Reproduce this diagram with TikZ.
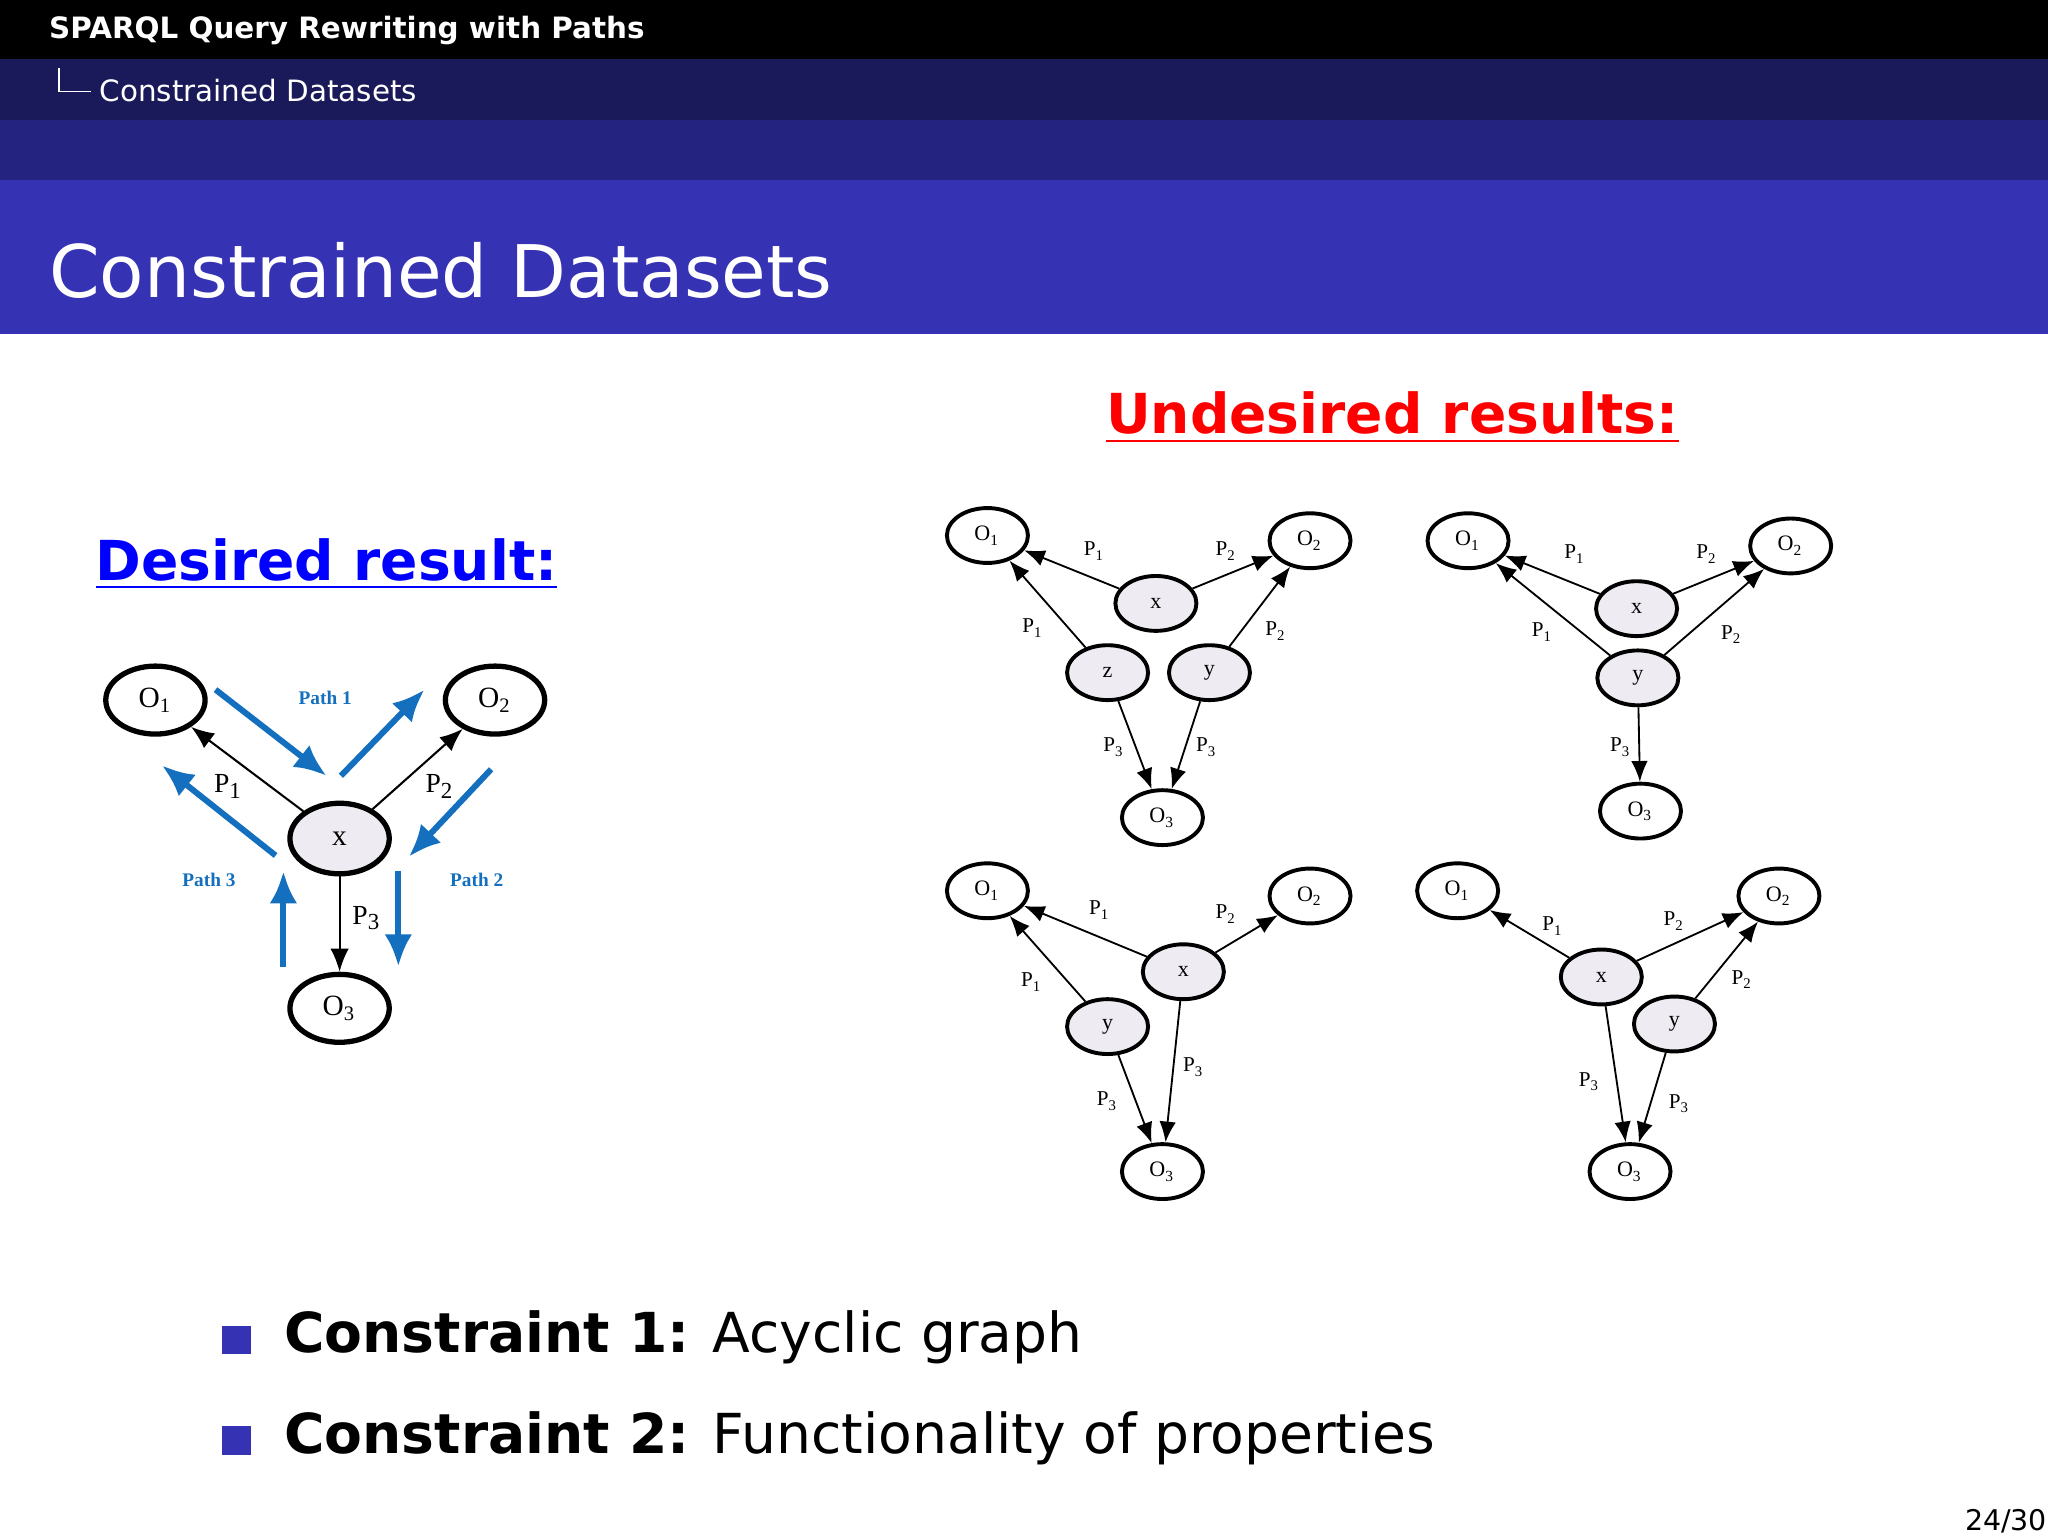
\documentclass[tikz,border=0pt]{standalone}
\usepackage{fontspec}
\setmainfont{DejaVu Sans}
\newfontfamily\nodefont{Liberation Serif}
\usetikzlibrary{arrows.meta,shapes.geometric}
\definecolor{bar1}{RGB}{26,26,90}
\definecolor{bar2}{RGB}{36,36,128}
\definecolor{bar3}{RGB}{54,50,180}
\definecolor{pathblue}{RGB}{20,112,190}
\definecolor{nodegray}{RGB}{238,236,242}
\newcommand{\mysub}[1]{\textsubscript{#1}}
\begin{document}
\begin{tikzpicture}[x=0.01cm,y=-0.01cm,
  bigo/.style={draw,ellipse,line width=1.15pt,minimum width=0.76cm,minimum height=0.52cm,inner sep=0pt,font=\nodefont\fontsize{6.4}{7}\selectfont},
  bigv/.style={bigo,fill=nodegray,minimum height=0.54cm},
  sm/.style={draw,ellipse,line width=0.85pt,minimum width=0.62cm,minimum height=0.42cm,inner sep=0pt,font=\nodefont\fontsize{4.8}{5}\selectfont},
  smv/.style={sm,fill=nodegray},
  edge/.style={-{Latex[length=5pt,width=4pt]},line width=0.45pt},
  sedge/.style={-{Latex[length=4.5pt,width=3.6pt]},line width=0.4pt},
  blue arrow/.style={-{Latex[length=7pt,width=6pt]},line width=1.3pt,pathblue},
  biglab/.style={font=\nodefont\fontsize{6}{6}\selectfont},
  smlab/.style={font=\nodefont\fontsize{4.6}{5}\selectfont},
  pathlab/.style={font=\nodefont\bfseries\fontsize{4.2}{5}\selectfont,text=pathblue},
  bulletsq/.style={fill=bar3,minimum size=0.22cm,inner sep=0pt}]
\useasboundingbox (0,0) rectangle (1568,1176);
\fill[white] (0,0) rectangle (1568,1176);
\fill[black] (0,0) rectangle (1568,45);
\fill[bar1] (0,45) rectangle (1568,92);
\fill[bar2] (0,92) rectangle (1568,138);
\fill[bar3] (0,138) rectangle (1568,256);
\node[anchor=west,text=white,inner sep=0pt,font=\bfseries\fontsize{6.4}{7}\selectfont] (hdr) at (37,23) {SPARQL Query Rewriting with Paths};
\draw[white,line width=0.4pt] (45,52) |- (70,70);
\node[anchor=west,text=white,font=\fontsize{6.4}{7}\selectfont,inner sep=1pt] (sub) at (72,69) {Constrained Datasets};
\node[anchor=west,text=white,font=\fontsize{15.8}{18}\selectfont,inner sep=0pt] (title) at (37,207) {Constrained Datasets};

\node[text=red,font=\bfseries\fontsize{12}{14}\selectfont] (und) at (1066,320) {\underline{Undesired results:}};
\node[text=blue,font=\bfseries\fontsize{12}{14}\selectfont] (des) at (250,432) {\underline{Desired result:}};

% left diagram
\node[bigo] (LO1) at (119,536) {O\mysub{1}};
\node[bigo] (LO2) at (379,536) {O\mysub{2}};
\node[bigv] (LX) at (260,642) {x};
\node[bigo] (LO3) at (260,772) {O\mysub{3}};
\draw[edge] (LX) -- (LO1);
\draw[edge] (LX) -- (LO2);
\draw[edge] (LX) -- (LO3);
\node[biglab] (lp1) at (175,602) {P\mysub{1}};
\node[biglab] (lp2) at (337,602) {P\mysub{2}};
\node[biglab] (lp3) at (281,703) {P\mysub{3}};
\coordinate (a1) at (165,528); \coordinate (b1) at (250,594);
\coordinate (a2) at (261,594); \coordinate (b2) at (325,528);
\coordinate (a3) at (376,589); \coordinate (b3) at (313,656);
\coordinate (a4) at (305,667); \coordinate (b4) at (305,740);
\coordinate (a5) at (217,740); \coordinate (b5) at (217,667);
\coordinate (a6) at (211,655); \coordinate (b6) at (124,586);
\foreach \i in {1,...,6} {\draw[blue arrow] (a\i) -- (b\i);}
\node[pathlab] (pa1) at (249,534) {Path 1};
\node[pathlab] (pa2) at (365,674) {Path 2};
\node[pathlab] (pa3) at (160,674) {Path 3};

% graph 1
\node[sm] (AO1) at (756,410) {O\mysub{1}};
\node[sm] (AO2) at (1003,414) {O\mysub{2}};
\node[smv] (AX) at (885,462) {x};
\node[smv] (AZ) at (848,515) {z};
\node[smv] (AY) at (926,515) {y};
\node[sm] (AO3) at (890,626) {O\mysub{3}};
\draw[sedge] (AX) -- (AO1); \draw[sedge] (AX) -- (AO2);
\draw[sedge] (AZ) -- (AO1); \draw[sedge] (AY) -- (AO2);
\draw[sedge] (AZ) -- (AO3); \draw[sedge] (AY) -- (AO3);
\node[smlab] at (838,422) {P\mysub{1}}; \node[smlab] at (939,422) {P\mysub{2}};
\node[smlab] at (791,481) {P\mysub{1}}; \node[smlab] at (977,483) {P\mysub{2}};
\node[smlab] at (853,572) {P\mysub{3}}; \node[smlab] at (924,572) {P\mysub{3}};

% graph 2
\node[sm] (BO1) at (1124,414) {O\mysub{1}};
\node[sm] (BO2) at (1371,418) {O\mysub{2}};
\node[smv] (BX) at (1253,466) {x};
\node[smv] (BY) at (1254,519) {y};
\node[sm] (BO3) at (1256,621) {O\mysub{3}};
\draw[sedge] (BX) -- (BO1); \draw[sedge] (BX) -- (BO2);
\draw[sedge] (BY) -- (BO1); \draw[sedge] (BY) -- (BO2);
\draw[sedge] (BY) -- (BO3);
\node[smlab] at (1206,424) {P\mysub{1}}; \node[smlab] at (1307,424) {P\mysub{2}};
\node[smlab] at (1181,484) {P\mysub{1}}; \node[smlab] at (1326,486) {P\mysub{2}};
\node[smlab] at (1241,572) {P\mysub{3}};

% graph 3
\node[sm] (CO1) at (756,682) {O\mysub{1}};
\node[sm] (CO2) at (1003,686) {O\mysub{2}};
\node[smv] (CX) at (906,744) {x};
\node[smv] (CY) at (848,786) {y};
\node[sm] (CO3) at (890,897) {O\mysub{3}};
\draw[sedge] (CX) -- (CO1); \draw[sedge] (CX) -- (CO2);
\draw[sedge] (CY) -- (CO1); \draw[sedge] (CY) -- (CO3);
\draw[sedge] (CX) -- (CO3);
\node[smlab] at (842,697) {P\mysub{1}}; \node[smlab] at (939,700) {P\mysub{2}};
\node[smlab] at (790,752) {P\mysub{1}}; \node[smlab] at (914,817) {P\mysub{3}};
\node[smlab] at (848,843) {P\mysub{3}};

% graph 4
\node[sm] (DO1) at (1116,682) {O\mysub{1}};
\node[sm] (DO2) at (1362,686) {O\mysub{2}};
\node[smv] (DX) at (1226,748) {x};
\node[smv] (DY) at (1282,784) {y};
\node[sm] (DO3) at (1248,897) {O\mysub{3}};
\draw[sedge] (DX) -- (DO1); \draw[sedge] (DX) -- (DO2);
\draw[sedge] (DY) -- (DO2); \draw[sedge] (DX) -- (DO3);
\draw[sedge] (DY) -- (DO3);
\node[smlab] at (1189,709) {P\mysub{1}}; \node[smlab] at (1282,705) {P\mysub{2}};
\node[smlab] at (1334,750) {P\mysub{2}}; \node[smlab] at (1217,828) {P\mysub{3}};
\node[smlab] at (1286,845) {P\mysub{3}};

% bullets
\node[bulletsq] (bs1) at (181,1026) {};
\node[bulletsq] (bs2) at (181,1103) {};
\node[anchor=west,inner sep=0pt,font=\fontsize{12}{13}\selectfont] (c1) at (217,1024) {\textbf{Constraint 1:} Acyclic graph};
\node[anchor=west,inner sep=0pt,font=\fontsize{12}{13}\selectfont] (c2) at (217,1101) {\textbf{Constraint 2:} Functionality of properties};
\node[anchor=east,inner sep=0pt,font=\fontsize{6.2}{7}\selectfont] (pg) at (1568,1165) {24/30};
\end{tikzpicture}
\end{document}
